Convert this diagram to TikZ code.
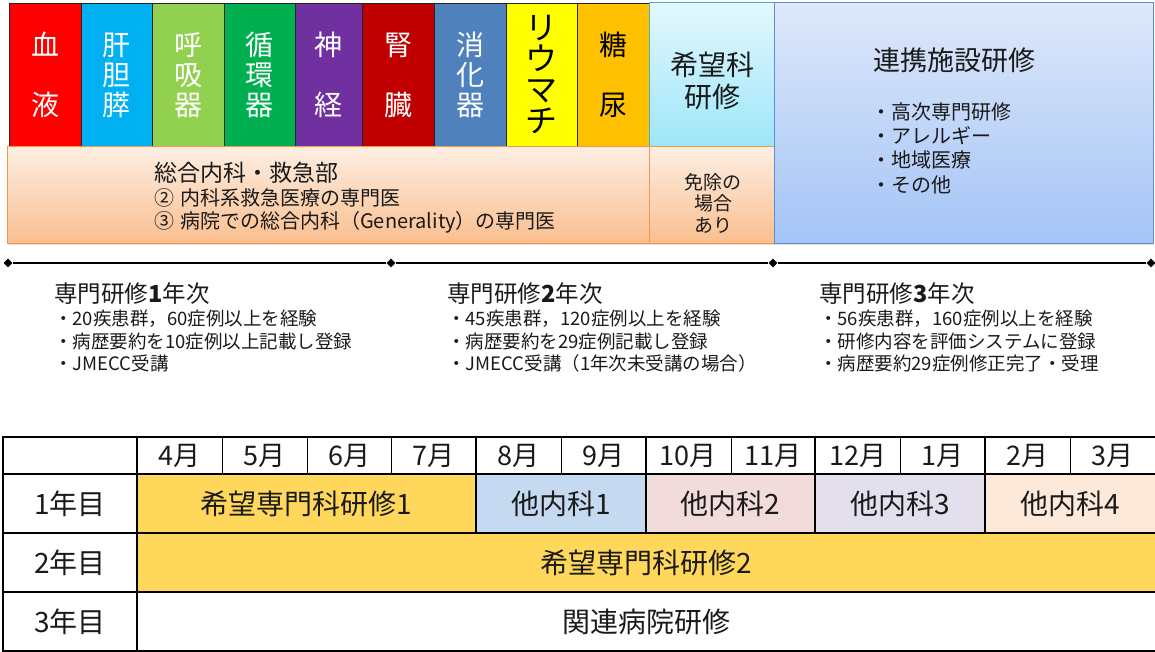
\documentclass[tikz,border=0pt]{standalone}
\usepackage{fontspec}
\setmainfont{Noto Sans CJK JP}
\usetikzlibrary{shapes.geometric,shadows}
\definecolor{cRed}{HTML}{FF0000}
\definecolor{cSky}{HTML}{00B0F0}
\definecolor{cLime}{HTML}{92D050}
\definecolor{cGreen}{HTML}{00B050}
\definecolor{cPurple}{HTML}{7030A0}
\definecolor{cDRed}{HTML}{C00000}
\definecolor{cSteel}{HTML}{4F81BD}
\definecolor{cYellow}{HTML}{FFFF00}
\definecolor{cAmber}{HTML}{FFC000}
\definecolor{oTop}{HTML}{FDEEE2}
\definecolor{oBot}{HTML}{FABF8F}
\definecolor{oLine}{HTML}{F79646}
\definecolor{aTop}{HTML}{E3F8FE}
\definecolor{aBot}{HTML}{9DE6F9}
\definecolor{aLine}{HTML}{4BACC6}
\definecolor{bTop}{HTML}{DEE8FA}
\definecolor{bBot}{HTML}{A4C4F6}
\definecolor{bLine}{HTML}{5B8FCF}
\definecolor{tGold}{HTML}{FFD75A}
\definecolor{tB1}{HTML}{C5D9F1}
\definecolor{tB2}{HTML}{F2DCDB}
\definecolor{tB3}{HTML}{E4DFEC}
\definecolor{tB4}{HTML}{FDE9D9}
\definecolor{ink}{HTML}{1A1A1A}
\begin{document}
\begin{tikzpicture}[x=1pt,y=-1pt,
  box/.style={inner sep=0pt, outer sep=0pt, anchor=north west},
  col/.style={box, draw=black!85, line width=0.8pt, minimum height=144pt, text=white, align=center},
  two/.style={font=\fontsize{28}{60}\selectfont},
  three/.style={font=\fontsize{28}{30}\selectfont},
  softshadow/.style={drop shadow={opacity=0.25, shadow xshift=1pt, shadow yshift=-2pt}},
  lbl/.style={inner sep=0pt, anchor=west, text=ink},
  hd/.style={lbl, font=\fontsize{23.5}{28}\selectfont},
  bl/.style={lbl, font=\fontsize{18.5}{22}\selectfont},
  dia/.style={diamond, fill=black, inner sep=0pt, minimum size=9pt},
  tl/.style={line width=2pt},
  cell/.style={box, text=ink, font=\fontsize{28}{30}\selectfont},
  mon/.style={inner sep=0pt, text=ink, font=\fontsize{27}{30}\selectfont},
  thick line/.style={line width=2pt},
  thin line/.style={line width=0.9pt}
]
\useasboundingbox (0,0) rectangle (1155,652);

% ---- top specialty columns ----
\node[col, two, fill=cRed, minimum width=72pt] (blood) at (9,3) {血\\液};
\node[col, three, fill=cSky, minimum width=71pt] (liver) at (81,3) {肝\\胆\\膵};
\node[col, three, fill=cLime, minimum width=72pt] (resp) at (152,3) {呼\\吸\\器};
\node[col, three, fill=cGreen, minimum width=71pt] (circ) at (224,3) {循\\環\\器};
\node[col, two, fill=cPurple, minimum width=67pt] (neuro) at (295,3) {神\\経};
\node[col, two, fill=cDRed, minimum width=72pt] (kidney) at (362,3) {腎\\臓};
\node[col, three, fill=cSteel, minimum width=72pt] (gi) at (434,3) {消\\化\\器};
\node[col, fill=cYellow, text=black, minimum width=71pt, font=\fontsize{32}{31}\selectfont] (rheum) at (506,3) {リ\\ウ\\マ\\チ};
\node[col, two, fill=cAmber, text=black, minimum width=72pt] (dm) at (577,3) {糖\\尿};

% ---- general medicine band ----
\node[box, draw=oLine, line width=1pt, top color=oTop, bottom color=oBot, minimum width=642pt, minimum height=96pt, softshadow] (band) at (7,147) {};
\node[lbl, font=\fontsize{23}{26}\selectfont] (bandA) at (154,173) {総合内科・救急部};
\node[lbl, font=\fontsize{20}{24}\selectfont] (bandB) at (154,198) {②\hspace{0.3em}内科系救急医療の専門医};
\node[lbl, font=\fontsize{20}{24}\selectfont] (bandC) at (154,222) {③\hspace{0.3em}病院での総合内科（Generality）の専門医};

% ---- elective box ----
\node[box, draw=aLine, line width=1pt, top color=aTop, bottom color=aBot, minimum width=125pt, minimum height=144pt] (elective) at (649,3) {};
\node[inner sep=0pt, text=ink, align=center, font=\fontsize{28}{32}\selectfont] (electiveT) at (712,81) {希望科\\研修};
\node[box, draw=oLine, line width=1pt, top color=oTop, bottom color=oBot, minimum width=125pt, minimum height=96pt, softshadow] (exempt) at (649,147) {};
\node[inner sep=0pt, text=ink, align=center, font=\fontsize{19}{21.5}\selectfont] (exemptT) at (713,203) {免除の\\場合\\あり};

% ---- affiliated facility box ----
\node[box, draw=bLine, line width=1pt, top color=bTop, bottom color=bBot, minimum width=379pt, minimum height=240pt, softshadow] (affil) at (774,3) {};
\node[inner sep=0pt, text=ink, font=\fontsize{27}{30}\selectfont] (affilT) at (954,60) {連携施設研修};
\node[lbl, font=\fontsize{20}{24}\selectfont] (af1) at (871,112) {・高次専門研修};
\node[lbl, font=\fontsize{20}{24}\selectfont] (af2) at (871,136) {・アレルギー};
\node[lbl, font=\fontsize{20}{24}\selectfont] (af3) at (871,160) {・地域医療};
\node[lbl, font=\fontsize{20}{24}\selectfont] (af4) at (871,185) {・その他};

% ---- timeline ----
\node[dia] (t0) at (8,263) {};
\node[dia] (t1) at (391,263) {};
\node[dia] (t2) at (773,263) {};
\node[dia] (t3) at (1151,263) {};
\draw[tl] (t0) -- (t1) -- (t2) -- (t3);

\node[hd] (y1h) at (54,294) {専門研修\textbf{1}年次};
\node[bl] (y1a) at (54,319) {・20疾患群，60症例以上を経験};
\node[bl] (y1b) at (54,341) {・病歴要約を10症例以上記載し登録};
\node[bl] (y1c) at (54,363) {・JMECC受講};

\node[hd] (y2h) at (447,294) {専門研修\textbf{2}年次};
\node[bl] (y2a) at (447,319) {・45疾患群，120症例以上を経験};
\node[bl] (y2b) at (447,341) {・病歴要約を29症例記載し登録};
\node[bl] (y2c) at (447,363) {・JMECC受講（1年次未受講の場合）};

\node[hd] (y3h) at (819,294) {専門研修\textbf{3}年次};
\node[bl] (y3a) at (819,319) {・56疾患群，160症例以上を経験};
\node[bl] (y3b) at (819,341) {・研修内容を評価システムに登録};
\node[bl] (y3c) at (819,363) {・病歴要約29症例修正完了・受理};

% ---- schedule table ----
\node[cell, fill=tGold, minimum width=339pt, minimum height=59pt] (k1) at (137,474) {希望専門科研修1};
\node[cell, fill=tB1, minimum width=170pt, minimum height=59pt] (o1) at (476,474) {他内科1};
\node[cell, fill=tB2, minimum width=169pt, minimum height=59pt] (o2) at (646,474) {他内科2};
\node[cell, fill=tB3, minimum width=170pt, minimum height=59pt] (o3) at (815,474) {他内科3};
\node[cell, fill=tB4, minimum width=170pt, minimum height=59pt] (o4) at (985,474) {他内科4};
\node[cell, fill=tGold, minimum width=1018pt, minimum height=59pt] (k2) at (137,533) {希望専門科研修2};
\node[cell, minimum width=1018pt, minimum height=59pt] (rel) at (137,592) {関連病院研修};

\node[cell, minimum width=134pt, minimum height=59pt] (r1) at (3,474) {1年目};
\node[cell, minimum width=134pt, minimum height=59pt] (r2) at (3,533) {2年目};
\node[cell, minimum width=134pt, minimum height=59pt] (r3) at (3,592) {3年目};

\foreach \m [count=\i] in {4,5,6,7,8,9,10,11,12,1,2,3}
  \node[mon] (m\i) at ({137+84.833*(\i-0.5)},456) {{\m}月};

% grid lines
\foreach \yy in {437,474,533,592,651}
  \draw[thick line] (3,\yy) -- (1155,\yy);
\draw[thick line] (3,436) -- (3,652);
\draw[thick line] (137,436) -- (137,652);
\foreach \xx in {476,646,815,985}
  \draw[thick line] (\xx,437) -- (\xx,533);
\foreach \xx in {222,307,391,561,731,900,1070}
  \draw[thin line] (\xx,437) -- (\xx,474);
\end{tikzpicture}
\end{document}
